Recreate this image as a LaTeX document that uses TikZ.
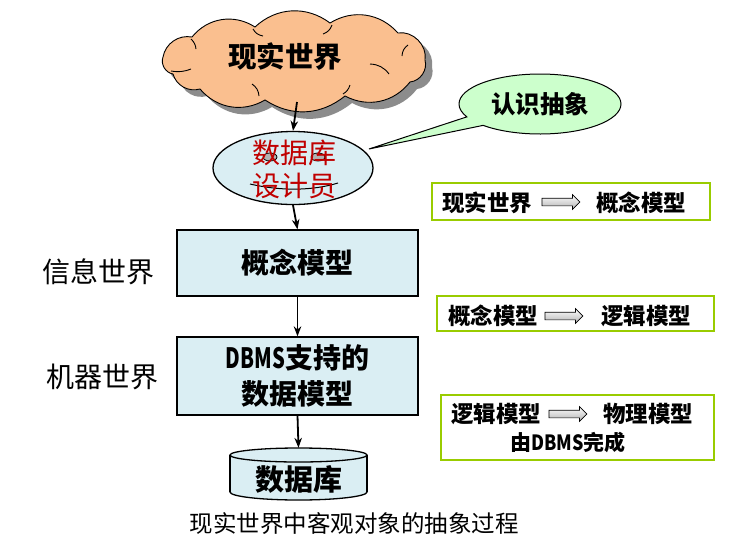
\documentclass[tikz,border=0pt]{standalone}
\usepackage{fontspec}
\usepackage{graphicx}
\setmainfont{Noto Sans CJK SC}
\usetikzlibrary{shapes.geometric,shapes.callouts,shapes.arrows,arrows.meta}
\definecolor{cyanbg}{HTML}{DAEEF3}
\definecolor{cloudc}{HTML}{FABF8F}
\definecolor{bubble}{HTML}{CCFFCC}
\definecolor{lime}{HTML}{99CC00}
\definecolor{dred}{HTML}{C00000}
\definecolor{shadowc}{HTML}{8C8C8C}
\tikzset{
  box/.style={draw, line width=1.3pt, fill=cyanbg, minimum width=241pt, minimum height=66pt,
    font=\bfseries\fontsize{28}{36}\selectfont, align=center, inner sep=0pt},
  notebox/.style={draw=lime, line width=1.8pt, inner sep=0pt},
  notetxt/.style={font=\bfseries\fontsize{22.5}{26}\selectfont, inner sep=0pt},
  conn/.style={-{Stealth[length=10pt,width=7.5pt]}, line width=1.8pt},
  harrow/.style={single arrow, draw, line width=0.7pt, top color=white, bottom color=gray!60,
    minimum height=38pt, inner xsep=0pt, inner ysep=3.5pt, single arrow head extend=3.5pt},
  sidelbl/.style={font=\fontsize{28}{30}\selectfont, inner sep=0pt},
  cylline/.style={line width=1.3pt},
}
\def\cloudpath{(163,57) to[bend left=45] (192,37) to[bend left=42] (255,27) to[bend left=40] (330,23)
  to[bend left=40] (398,33) to[bend left=55] (425,60) to[bend left=50] (410,82) to[bend left=40] (345,96)
  to[bend left=36] (265,100) to[bend left=40] (200,89) to[bend left=45] (173,74) to[bend left=50] (163,57) -- cycle}
\begin{document}
\begin{tikzpicture}[x=1pt,y=-1pt]
\useasboundingbox (0,0) rectangle (733,555);

% cloud with shadow
\fill[shadowc, xshift=7pt, yshift=-7pt] \cloudpath;
\filldraw[fill=cloudc, draw=black, line width=0.9pt] \cloudpath;
\begin{scope}[line width=0.9pt]
  \draw (191,39) to[bend left=20] (196,49);
  \draw (253,29) to[bend right=25] (263,36);
  \draw (332,25) to[bend left=25] (323,34);
  \draw (408,45) to[bend right=25] (402,56);
  \draw (370,64) to[bend left=25] (389,74);
  \draw (171,71) to[bend right=15] (191,69);
  \draw (252,84) to[bend left=25] (259,96);
  \draw (343,94) to[bend right=20] (350,85);
\end{scope}
\node[minimum width=262pt, minimum height=80pt, inner sep=0pt,
  font=\bfseries\fontsize{28.5}{30}\selectfont] (cloud) at (285,57) {现实世界};

% designer ellipse
\node[ellipse, draw, line width=1.3pt, fill=cyanbg, minimum width=160pt, minimum height=73pt, inner sep=0pt] (des) at (293,168) {};
\filldraw[fill=gray!60, draw=black, line width=0.8pt] (270,157) ellipse (7 and 4);
\filldraw[fill=gray!60, draw=black, line width=0.8pt] (318,157) ellipse (7 and 4);
\draw[line width=1pt] (250,184) .. controls (280,191) and (312,191) .. (338,183);
\node[text=dred, align=center, font=\fontsize{28}{33}\selectfont, inner sep=0pt] (destxt) at (294,169) {数据库\\设计员};

% callout
\coordinate (tip) at (369,149);
\node[ellipse callout, draw, line width=1pt, fill=bubble, minimum width=162pt, minimum height=60pt,
  callout absolute pointer={(tip)}, callout pointer arc=20,
  font=\bfseries\fontsize{24.5}{26}\selectfont, inner sep=0pt] (bub) at (540,104) {认识抽象};

% main boxes
\node[box] (cm) at (297.5,263) {概念模型};
\node[box, minimum height=78pt] (dm) at (297.5,376) {\scalebox{0.72}[1]{DBMS}支持的\\数据模型};

% cylinder (drawn by hand)
\filldraw[fill=cyanbg, draw=black, cylline] (298.5,492) ellipse (68.5 and 8);
\fill[cyanbg] (230,455) rectangle (367,492);
\draw[cylline] (230,455) -- (230,492) (367,455) -- (367,492);
\filldraw[fill=cyanbg, draw=black, cylline] (298.5,455) ellipse (68.5 and 7);
\node[minimum width=137pt, minimum height=52pt, inner sep=0pt] (db) at (298.5,474) {};
\node[font=\bfseries\fontsize{29}{30}\selectfont, inner sep=0pt] (dbtxt) at (298.5,479) {数据库};

% connectors
\coordinate (c0) at (297,102);
\draw[conn] (c0) -- (des.north);
\draw[conn] (des.south) -- (cm.north);
\draw[conn] (cm.south) -- (dm.north);
\draw[conn] (dm.south) -- (db.north);

% side labels
\node[sidelbl] (info) at (98,272) {信息世界};
\node[sidelbl] (mach) at (102,377) {机器世界};

% caption
\node[font=\fontsize{23.5}{26}\selectfont, inner sep=0pt] (cap) at (354,524) {现实世界中客观对象的抽象过程};

% note 1
\node[notebox, minimum width=278pt, minimum height=37pt] (n1) at (571,201.5) {};
\node[notetxt] (n1a) at (487,203) {现实世界};
\node[harrow] (n1b) at (559,202) {};
\node[notetxt] (n1c) at (641,203) {概念模型};

% note 2
\node[notebox, minimum width=277pt, minimum height=35pt] (n2) at (575.5,313.5) {};
\node[notetxt] (n2a) at (493,316) {概念模型};
\node[harrow] (n2b) at (562,316) {};
\node[notetxt] (n2c) at (646,316) {逻辑模型};

% note 3
\node[notebox, minimum width=273pt, minimum height=65pt] (n3) at (577.5,427.5) {};
\node[notetxt] (n3a) at (496,414) {逻辑模型};
\node[harrow] (n3b) at (566,414) {};
\node[notetxt] (n3c) at (648,414) {物理模型};
\node[notetxt, font=\bfseries\fontsize{21}{24}\selectfont] (n3d) at (568,442) {由\scalebox{0.85}[1]{DBMS}完成};
\end{tikzpicture}
\end{document}
